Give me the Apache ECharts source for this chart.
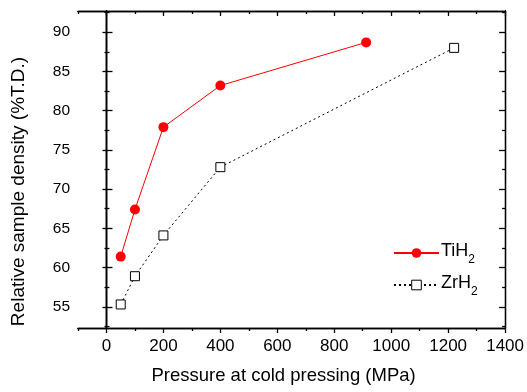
<!DOCTYPE html>
<html>
<head>
<meta charset="utf-8">
<script src="https://cdn.jsdelivr.net/npm/echarts@6/dist/echarts.min.js"></script>
<style>
html,body{margin:0;padding:0;background:#fff;}
#chart{width:527px;height:392px;}
</style>
</head>
<body>
<div id="chart"></div>
<script>
// ---- data ----
const seriesNames = ['TiH2', 'ZrH2'];
const tiPressure = [50, 100, 200, 400, 912];
const tiDensity  = [61.4, 67.4, 77.9, 83.2, 88.7];
const zrPressure = [50, 100, 200, 400, 1221];
const zrDensity  = [55.3, 58.9, 64.1, 72.8, 88.0];
const xMajorTicks = [0, 200, 400, 600, 800, 1000, 1200, 1400];
const xMinorTicks = [-100, 100, 300, 500, 700, 900, 1100, 1300];
const yMajorTicks = [55, 60, 65, 70, 75, 80, 85, 90];
const yMinorTicks = [52.5, 57.5, 62.5, 67.5, 72.5, 77.5, 82.5, 87.5, 92.5];
const xTitle = 'Pressure at cold pressing (MPa)';
const yTitle = 'Relative sample density (%T.D.)';

const FONT = '"Liberation Sans", Arial, Helvetica, sans-serif';
const XMIN = -100, XMAX = 1400, YMIN = 52.3, YMAX = 92.7;

function xAx(pos, ticks, len, inside, opts) {
  return Object.assign({
    type: 'value', position: pos, min: XMIN, max: XMAX,
    axisLine: { show: true, lineStyle: { color: '#000', width: 1.3 } },
    axisTick: { show: true, inside: inside, length: len, customValues: ticks, lineStyle: { color: '#000', width: 1.3 } },
    axisLabel: { show: false },
    splitLine: { show: false }
  }, opts || {});
}
function yAx(pos, ticks, len, inside, opts) {
  return Object.assign({
    type: 'value', position: pos, min: YMIN, max: YMAX,
    axisLine: { show: true, lineStyle: { color: '#000', width: 1.3 } },
    axisTick: { show: true, inside: inside, length: len, customValues: ticks, lineStyle: { color: '#000', width: 1.3 } },
    axisLabel: { show: false },
    splitLine: { show: false }
  }, opts || {});
}

const xAxes = [
  xAx('bottom', xMajorTicks, 5, false, {
    name: xTitle, nameLocation: 'middle', nameGap: 38,
    nameTextStyle: { fontFamily: FONT, fontSize: 18.5, color: '#000', padding: [0, 16, 0, 0] },
    axisLabel: { show: true, customValues: xMajorTicks, margin: 10, fontFamily: FONT, fontSize: 17, color: '#000',
      formatter: function (v) { return String(v); } }
  }),
  xAx('bottom', xMinorTicks, 3, false),
  xAx('top', xMajorTicks, 5, true),
  xAx('top', xMinorTicks, 3, true)
];
const yAxes = [
  yAx('left', yMajorTicks, 4, false, {
    name: yTitle, nameLocation: 'middle', nameGap: 50,
    nameTextStyle: { fontFamily: FONT, fontSize: 19, color: '#000', padding: [0, 44, 0, 0] },
    axisLabel: { show: true, customValues: yMajorTicks, margin: 8, fontFamily: FONT, fontSize: 15.5, color: '#000',
      formatter: function (v) { return String(v); } }
  }),
  yAx('left', yMinorTicks, 2, false),
  yAx('left', yMajorTicks, 6, true),
  yAx('left', yMinorTicks, 3, true),
  yAx('right', yMajorTicks, 6, true),
  yAx('right', yMinorTicks, 3, true)
];

const chart = echarts.init(document.getElementById('chart'), null, { renderer: 'canvas' });
chart.setOption({
  animation: false,
  backgroundColor: '#fff',
  grid: { left: 78, right: 21, top: 11, bottom: 64, containLabel: false },
  xAxis: xAxes,
  yAxis: yAxes,
  legend: {
    orient: 'vertical', left: 388, top: 235, itemWidth: 45, itemHeight: 12, itemGap: 6,
    data: [
      { name: 'TiH2' },
      { name: 'ZrH2', itemStyle: { borderWidth: 1 } }
    ],
    formatter: function (n) { return n === 'TiH2' ? '{a|TiH}{b|2}' : '{a|ZrH}{b|2}'; },
    textStyle: {
      padding: [0, 0, 0, -3],
      rich: {
        a: { fontFamily: FONT, fontSize: 18, color: '#000', lineHeight: 26, verticalAlign: 'top', padding: [2, 0, 0, 0] },
        b: { fontFamily: FONT, fontSize: 12, color: '#000', lineHeight: 12, verticalAlign: 'top', padding: [14, 0, 0, 0] }
      }
    }
  },
  series: [
    {
      name: 'TiH2', type: 'line', xAxisIndex: 0, yAxisIndex: 0,
      data: tiPressure.map((p, i) => [p, tiDensity[i]]),
      symbol: 'circle', symbolSize: 10,
      itemStyle: { color: '#ff0000' },
      lineStyle: { color: '#ff0000', width: 1 },
      z: 3
    },
    {
      name: 'ZrH2', type: 'line', xAxisIndex: 0, yAxisIndex: 0,
      data: zrPressure.map((p, i) => [p, zrDensity[i]]),
      symbol: 'rect', symbolSize: 9,
      itemStyle: { color: '#fff', borderColor: '#000', borderWidth: 1 },
      lineStyle: { color: '#000', width: 1, type: [2, 3] },
      z: 2
    }
  ]
});
</script>
</body>
</html>
